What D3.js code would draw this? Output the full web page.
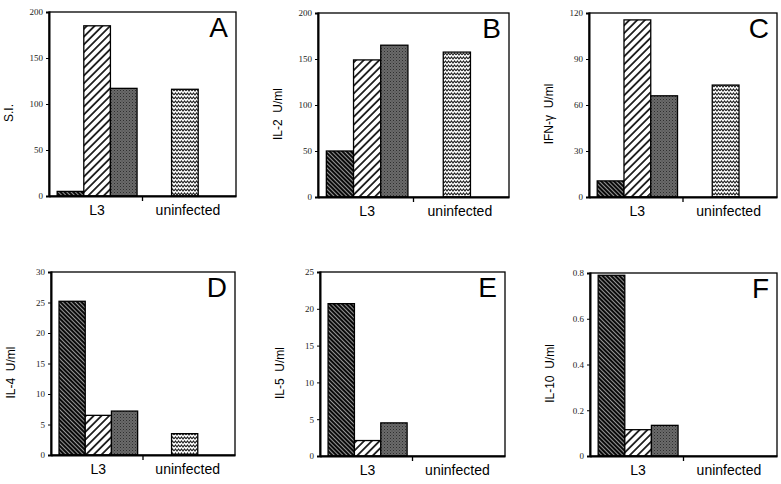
<!DOCTYPE html>
<html><head><meta charset="utf-8">
<script src="https://cdn.jsdelivr.net/npm/d3@7"></script>
<style>body{margin:0;background:#fff}svg{display:block}</style>
</head><body>
<script>
// ---- data ----
const panelLetters = ["A","B","C","D","E","F"];
const yLabels = ["S.I.","IL-2  U/ml","IFN-γ  U/ml","IL-4  U/ml","IL-5  U/ml","IL-10  U/ml"];
const yMax = [200,200,120,30,25,0.8];
const yTickValues = [
  [0,50,100,150,200],
  [0,50,100,150,200],
  [0,30,60,90,120],
  [0,5,10,15,20,25,30],
  [0,5,10,15,20,25],
  [0,0.2,0.4,0.6,0.8]
];
const categories = ["L3","uninfected"];
const series = ["s1","s2","s3"];
const l3Values = [
  [5,185,117],
  [50,149,165],
  [10.5,115.5,66],
  [25.2,6.5,7.2],
  [20.7,2.1,4.5],
  [0.79,0.115,0.134]
];
const uninfectedValues = [116,157.5,73,3.5,0,0];

// ---- layout ----
const W=781,H=484;
const frames = [
  {l:49,r:236,t:12,b:196},
  {l:318,r:509,t:13,b:197},
  {l:589,r:777,t:13,b:197},
  {l:51,r:235,t:272,b:455},
  {l:320,r:505,t:272,b:456},
  {l:590,r:777,t:273,b:456}
];

const svg=d3.select("body").append("svg").attr("width",W).attr("height",H);
const defs=svg.append("defs");
// pattern 1: dark with fine white "\" lines
const p1=defs.append("pattern").attr("id","pat1").attr("patternUnits","userSpaceOnUse")
  .attr("width",3).attr("height",3).attr("patternTransform","rotate(-45)");
p1.append("rect").attr("width",3).attr("height",3).attr("fill","#0a0a0a");
p1.append("line").attr("x1",1.5).attr("x2",1.5).attr("y1",0).attr("y2",3).attr("stroke","#bbb").attr("stroke-width",0.8);
// pattern 2: white with black "/" lines
const p2=defs.append("pattern").attr("id","pat2").attr("patternUnits","userSpaceOnUse")
  .attr("width",5.5).attr("height",5.5).attr("patternTransform","rotate(45)");
p2.append("rect").attr("width",5.5).attr("height",5.5).attr("fill","#fff");
p2.append("line").attr("x1",2.75).attr("x2",2.75).attr("y1",0).attr("y2",5.5).attr("stroke","#000").attr("stroke-width",1.6);
// pattern 3: gray stipple
const p3=defs.append("pattern").attr("id","pat3").attr("patternUnits","userSpaceOnUse")
  .attr("width",3).attr("height",3);
p3.append("rect").attr("width",3).attr("height",3).attr("fill","#6a6a6a");
p3.append("rect").attr("x",0).attr("y",0).attr("width",1).attr("height",1).attr("fill","#2e2e2e");
p3.append("rect").attr("x",1.5).attr("y",1.5).attr("width",1).attr("height",1).attr("fill","#444");
// pattern 4: zigzag
const p4=defs.append("pattern").attr("id","pat4").attr("patternUnits","userSpaceOnUse")
  .attr("width",6).attr("height",4);
p4.append("rect").attr("width",6).attr("height",4).attr("fill","#fff");
p4.append("path").attr("d","M0,3 L1.5,1 L3,3 L4.5,1 L6,3").attr("fill","none").attr("stroke","#222").attr("stroke-width",1.1);
const seriesFill = {s1:"url(#pat1)",s2:"url(#pat2)",s3:"url(#pat3)"};

frames.forEach((f,i)=>{
  const g=svg.append("g");
  const x0=d3.scaleBand().domain(categories).range([f.l,f.r]).paddingInner(0.12).paddingOuter(0.09);
  const x1=d3.scaleBand().domain(series).range([0,x0.bandwidth()]);
  const y=d3.scaleLinear().domain([0,yMax[i]]).range([f.b,f.t]);

  // L3 bars
  g.selectAll("rect.l3").data(series.map((s,k)=>({s,v:l3Values[i][k]}))).join("rect")
    .attr("x",d=>x0("L3")+x1(d.s)).attr("width",x1.bandwidth())
    .attr("y",d=>y(d.v)).attr("height",d=>y(0)-y(d.v))
    .attr("fill",d=>seriesFill[d.s]).attr("stroke","#000").attr("stroke-width",1.3);
  // uninfected bar
  g.selectAll("rect.un").data([uninfectedValues[i]].filter(v=>v>0)).join("rect")
    .attr("x",x0("uninfected")+x1("s2")-3).attr("width",x1.bandwidth())
    .attr("y",d=>y(d)).attr("height",d=>y(0)-y(d))
    .attr("fill","url(#pat4)").attr("stroke","#000").attr("stroke-width",1.3);

  // frame
  g.append("rect").attr("x",f.l).attr("y",f.t).attr("width",f.r-f.l).attr("height",f.b-f.t)
    .attr("fill","none").attr("stroke","#000").attr("stroke-width",1.3);

  // y axis
  const fmt = yMax[i]<1 ? (d=>d===0?"0":d3.format(".1f")(d)) : d3.format("d");
  const ya=g.append("g").attr("transform",`translate(${f.l},0)`)
    .call(d3.axisLeft(y).tickValues(yTickValues[i]).tickSize(3).tickPadding(3).tickFormat(fmt));
  ya.select(".domain").attr("stroke","#000").attr("stroke-width",2);
  ya.selectAll(".tick line").attr("stroke","#000").attr("stroke-width",1);
  ya.selectAll("text").attr("font-family","'Liberation Serif','Times New Roman',serif").attr("font-size",9).attr("fill","#222");

  // x axis
  const xa=g.append("g").attr("transform",`translate(0,${f.b})`)
    .call(d3.axisBottom(x0).tickSize(0).tickPadding(9));
  xa.select(".domain").attr("stroke","#000").attr("stroke-width",2);
  xa.selectAll("text").attr("font-family","'Liberation Sans',Arial,sans-serif").attr("font-size",14).attr("fill","#000");
  // category divider tick
  g.append("line").attr("x1",(f.l+f.r)/2).attr("x2",(f.l+f.r)/2).attr("y1",f.b).attr("y2",f.b+5)
    .attr("stroke","#000").attr("stroke-width",1.3);

  // y label
  g.append("text").attr("transform",`translate(${f.l-36},${(f.t+f.b)/2+9}) rotate(-90)`)
    .attr("text-anchor","middle").attr("font-family","'Liberation Sans',Arial,sans-serif")
    .attr("font-size",12).attr("xml:space","preserve").style("white-space","pre").text(yLabels[i]);

  // panel letter
  g.append("text").attr("x",f.r-8).attr("y",f.t+25).attr("text-anchor","end")
    .attr("font-family","'Liberation Sans',Arial,sans-serif").attr("font-size",28).attr("font-weight",300)
    .text(panelLetters[i]);
});
</script>
</body></html>
